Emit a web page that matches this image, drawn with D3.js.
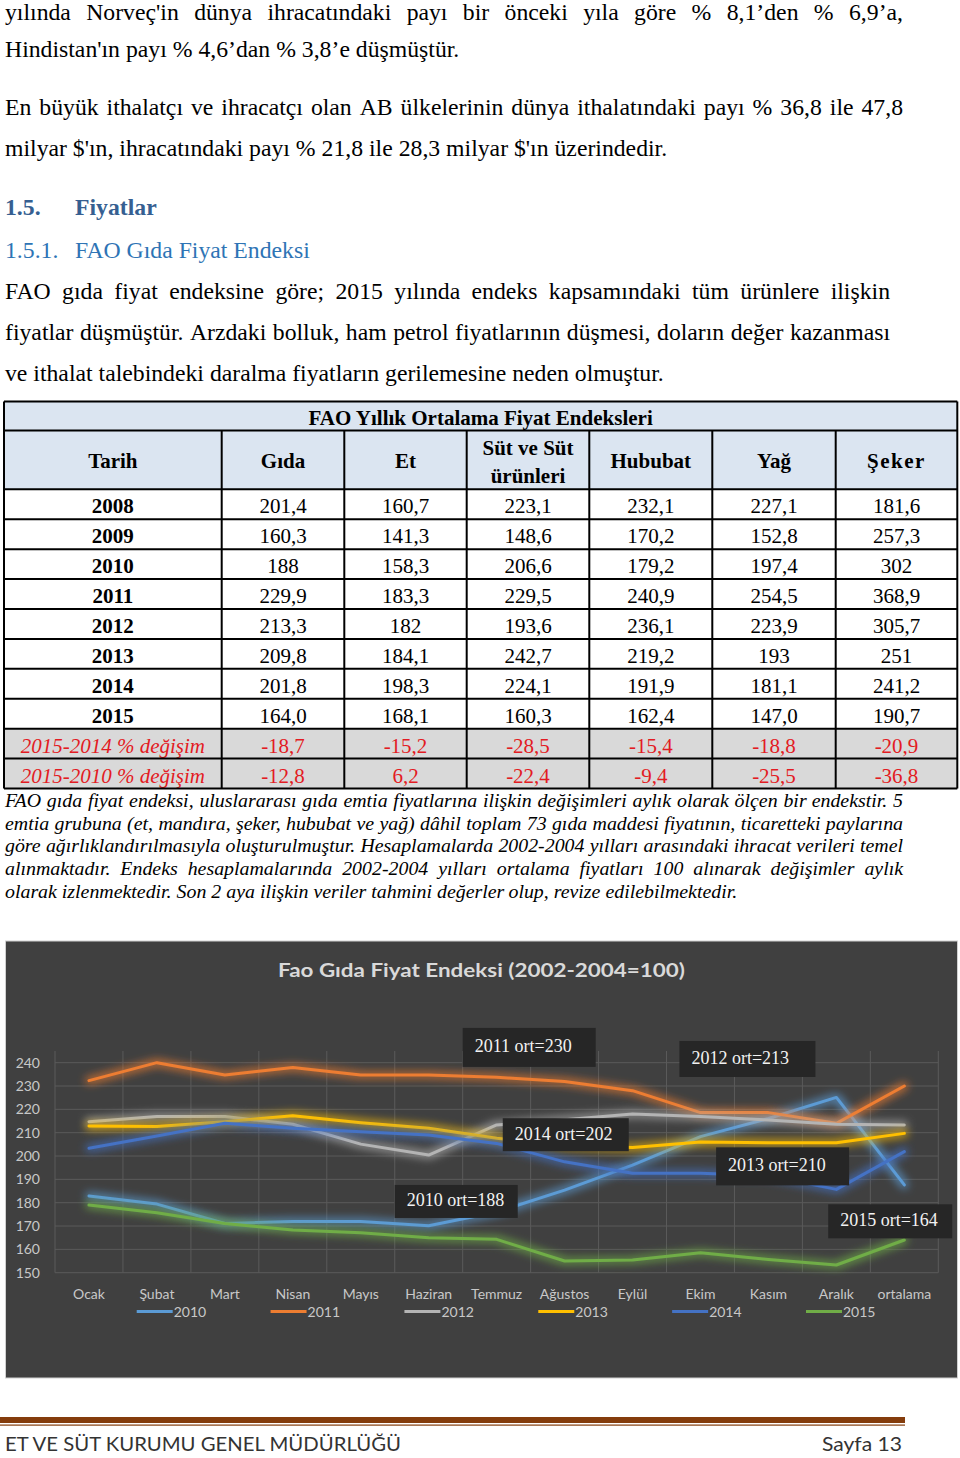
<!DOCTYPE html>
<html><head><meta charset="utf-8">
<script src="https://cdn.jsdelivr.net/npm/d3@7"></script>
<style>
html,body{margin:0;padding:0;background:#fff;}
svg{display:block;}
</style></head><body>
<svg id="page" width="960" height="1458"></svg>
<script>
// ---------------- DATA ----------------
const months = ["Ocak","Şubat","Mart","Nisan","Mayıs","Haziran","Temmuz","Ağustos","Eylül","Ekim","Kasım","Aralık","ortalama"];
const seriesNames = ["2010","2011","2012","2013","2014","2015"];
const s2010 = [182.9,179.4,171.1,171.9,171.9,170.1,176.0,185.4,196.1,208.3,216.1,225.1,187.6];
const s2011 = [232.3,240.0,234.7,237.9,234.7,234.7,233.7,231.9,228.0,218.6,218.6,214.0,230.0];
const s2012 = [214.7,216.9,216.9,213.6,205.1,200.4,213.3,215.5,218.0,216.9,215.4,213.6,213.3];
const s2013 = [212.9,212.6,214.7,217.3,214.3,211.9,207.6,204.5,203.7,206.0,205.7,205.7,209.7];
const s2014 = [203.3,208.6,214.0,211.9,210.4,209.0,205.4,197.5,192.6,192.6,191.5,185.7,201.9];
const s2015 = [179.0,175.7,171.1,168.3,167.1,165.0,164.3,155.0,155.4,158.5,155.7,153.3,164.0];
const seriesColors = ["#5b9bd5","#ed7d31","#b4b4b4","#ffc000","#4472c4","#70ad47"];
const yTicks = [150,160,170,180,190,200,210,220,230,240];
const chartTitle = "Fao Gıda Fiyat Endeksi (2002-2004=100)";
const avgYears = ["2011","2012","2014","2013","2010","2015"];
const avgValues = [230,213,202,210,188,164];

const tableTitle = "FAO Yıllık Ortalama Fiyat Endeksleri";
const tableHeaders = ["Tarih","Gıda","Et","Süt ve Süt|ürünleri","Hububat","Yağ","Şeker"];
const tableRows = ["2008","2009","2010","2011","2012","2013","2014","2015","2015-2014 % değişim","2015-2010 % değişim"];
const colGida    = ["201,4","160,3","188","229,9","213,3","209,8","201,8","164,0","-18,7","-12,8"];
const colEt      = ["160,7","141,3","158,3","183,3","182","184,1","198,3","168,1","-15,2","6,2"];
const colSut     = ["223,1","148,6","206,6","229,5","193,6","242,7","224,1","160,3","-28,5","-22,4"];
const colHububat = ["232,1","170,2","179,2","240,9","236,1","219,2","191,9","162,4","-15,4","-9,4"];
const colYag     = ["227,1","152,8","197,4","254,5","223,9","193","181,1","147,0","-18,8","-25,5"];
const colSeker   = ["181,6","257,3","302","368,9","305,7","251","241,2","190,7","-20,9","-36,8"];

const bodyText = [
 "yılında Norveç'in dünya ihracatındaki payı bir önceki yıla göre % 8,1’den % 6,9’a,",
 "Hindistan'ın payı % 4,6’dan % 3,8’e düşmüştür.",
 "En büyük ithalatçı ve ihracatçı olan AB ülkelerinin dünya ithalatındaki payı % 36,8 ile 47,8",
 "milyar $'ın, ihracatındaki payı % 21,8 ile 28,3 milyar $'ın üzerindedir.",
 "FAO gıda fiyat endeksine göre; 2015 yılında endeks kapsamındaki tüm ürünlere ilişkin",
 "fiyatlar düşmüştür. Arzdaki bolluk, ham petrol fiyatlarının düşmesi, doların değer kazanması",
 "ve ithalat talebindeki daralma fiyatların gerilemesine neden olmuştur."
];
const headingNums = ["1.5.","1.5.1."];
const headingTexts = ["Fiyatlar","FAO Gıda Fiyat Endeksi"];
const noteText = [
 "FAO gıda fiyat endeksi, uluslararası gıda emtia fiyatlarına ilişkin değişimleri aylık olarak ölçen bir endekstir. 5",
 "emtia grubuna (et, mandıra, şeker, hububat ve yağ) dâhil toplam 73 gıda maddesi fiyatının, ticaretteki paylarına",
 "göre ağırlıklandırılmasıyla oluşturulmuştur. Hesaplamalarda 2002-2004 yılları arasındaki ihracat verileri temel",
 "alınmaktadır. Endeks hesaplamalarında 2002-2004 yılları ortalama fiyatları 100 alınarak değişimler aylık",
 "olarak izlenmektedir. Son 2 aya ilişkin veriler tahmini değerler olup, revize edilebilmektedir."
];
const footerLeft = "ET VE SÜT KURUMU GENEL MÜDÜRLÜĞÜ";
const footerRight = "Sayfa 13";

// ---------------- LAYOUT ----------------
const SERIF = "'Liberation Serif','Times New Roman',serif";
const SANS = "Lato,'Open Sans',sans-serif";
const bodyLayout = [
 {y:19.5, r:903},{y:57, r:null},{y:115, r:903},{y:156, r:null},
 {y:299, r:890},{y:340, r:890},{y:381, r:null}
];
const headingLayout = [{y:215, bold:true, color:"#365f91"},{y:258, bold:false, color:"#2e74b5"}];
const noteLayout = [{y:807,r:903},{y:830,r:903},{y:852,r:903},{y:875,r:903},{y:898,r:null}];

const svg = d3.select("#page");

function placeLine(g, text, x0, right, y, size, attrs) {
  const t = g.append("text").attr("y", y).attr("font-size", size);
  for (const k in attrs) t.attr(k, attrs[k]);
  const words = text.split(" ");
  const spans = words.map(w => t.append("tspan").text(w));
  const widths = spans.map(s => s.node().getComputedTextLength());
  const spaceW = (() => { const s = t.append("tspan").text("\u00a0"); const w = s.node().getComputedTextLength(); s.remove(); return w; })();
  let gap = spaceW;
  if (right != null && words.length > 1) gap = (right - x0 - d3.sum(widths)) / (words.length - 1);
  let x = x0;
  spans.forEach((s, i) => { s.attr("x", x); x += widths[i] + gap; });
  return t;
}
function measure(text, size, attrs) {
  const t = svg.append("text").attr("font-size", size).text(text);
  for (const k in attrs) t.attr(k, attrs[k]);
  const w = t.node().getComputedTextLength(); t.remove(); return w;
}

// ---- body text
const bodyAttrs = {"font-family": SERIF, fill: "#000"};
const bodySize = 21 * 659 / measure(bodyText[6], 21, bodyAttrs);
const gBody = svg.append("g");
bodyText.forEach((t, i) => placeLine(gBody, t, 5, bodyLayout[i].r, bodyLayout[i].y, bodySize, bodyAttrs));
headingNums.forEach((n, i) => {
  const L = headingLayout[i];
  gBody.append("text").attr("x", 5).attr("y", L.y).attr("font-family", SERIF).attr("font-size", bodySize)
    .attr("font-weight", L.bold ? "bold" : "normal").attr("fill", L.color).text(n);
  gBody.append("text").attr("x", 75).attr("y", L.y).attr("font-family", SERIF).attr("font-size", bodySize)
    .attr("font-weight", L.bold ? "bold" : "normal").attr("fill", L.color).text(headingTexts[i]);
});

// ---- table
const colEdges = [4, 221.7, 344.3, 466.7, 589.3, 712.3, 835.7, 957.3];
const tTop = 401.5, tHead = 430.5, tBody = 489.3, tBot = 788.5;
const rowY = d3.scaleBand().domain(tableRows).range([tBody, tBot]);
const columns = [colGida, colEt, colSut, colHububat, colYag, colSeker];
const gT = svg.append("g");
gT.append("rect").attr("x", colEdges[0]).attr("y", tTop).attr("width", colEdges[7]-colEdges[0]).attr("height", tBody-tTop).attr("fill", "#dbe5f1");
tableRows.forEach((r, i) => {
  gT.append("rect").attr("x", colEdges[0]).attr("y", rowY(r)).attr("width", colEdges[7]-colEdges[0]).attr("height", rowY.bandwidth())
    .attr("fill", i >= 8 ? "#d9d9d9" : "#fff");
});
const tSize = 21;
gT.append("text").attr("x", (colEdges[0]+colEdges[7])/2).attr("y", 425).attr("text-anchor","middle")
  .attr("font-family", SERIF).attr("font-weight","bold").attr("font-size", tSize).text(tableTitle);
tableHeaders.forEach((h, j) => {
  const cx = (colEdges[j] + colEdges[j+1]) / 2;
  const parts = h.split("|");
  const t = gT.append("text").attr("text-anchor","middle").attr("font-family", SERIF).attr("font-weight","bold").attr("font-size", tSize);
  if (h === "Şeker") t.attr("letter-spacing", 1.5);
  if (parts.length === 1) t.attr("x", cx).attr("y", 468).text(h);
  else { t.append("tspan").attr("x", cx).attr("y", 455).text(parts[0]); t.append("tspan").attr("x", cx).attr("y", 483).text(parts[1]); }
});
tableRows.forEach((r, i) => {
  const by = rowY(r) + 24;
  const isChg = i >= 8;
  gT.append("text").attr("x", (colEdges[0]+colEdges[1])/2).attr("y", by).attr("text-anchor","middle")
    .attr("font-family", SERIF).attr("font-size", tSize)
    .attr("font-weight", isChg ? "normal" : "bold").attr("font-style", isChg ? "italic" : "normal")
    .attr("fill", isChg ? "#e31b23" : "#000").text(r);
  columns.forEach((col, j) => {
    gT.append("text").attr("x", (colEdges[j+1]+colEdges[j+2])/2).attr("y", by).attr("text-anchor","middle")
      .attr("font-family", SERIF).attr("font-size", tSize).attr("fill", isChg ? "#e31b23" : "#000").text(col[i]);
  });
});
// table lines
const hLines = [tTop, tHead, tBody].concat(tableRows.map(r => rowY(r) + rowY.bandwidth()));
hLines.forEach(yy => gT.append("line").attr("x1", colEdges[0]).attr("x2", colEdges[7]).attr("y1", yy).attr("y2", yy).attr("stroke","#000").attr("stroke-width",2));
colEdges.forEach((xx, j) => gT.append("line").attr("x1", xx).attr("x2", xx)
  .attr("y1", (j === 0 || j === 7) ? tTop : tHead).attr("y2", tBot).attr("stroke","#000").attr("stroke-width",2));

// ---- footnote
const noteAttrs = {"font-family": SERIF, "font-style": "italic", fill: "#000"};
const noteSize = 17 * 733 / measure(noteText[4], 17, noteAttrs);
const gN = svg.append("g");
noteText.forEach((t, i) => placeLine(gN, t, 5, noteLayout[i].r, noteLayout[i].y, noteSize, noteAttrs));

// ---------------- CHART ----------------
const gC = svg.append("g");
gC.append("rect").attr("x", 5.5).attr("y", 941).attr("width", 952).attr("height", 437)
  .attr("fill", "#404040").attr("stroke", "#d0d0d0").attr("stroke-width", 1);

const x = d3.scaleBand().domain(months).range([55, 938.3]);
const y = d3.scaleLinear().domain([150, 245]).range([1272.7, 1051]);

const defs = svg.append("defs");
const flt = defs.append("filter").attr("id","glow").attr("filterUnits","userSpaceOnUse")
  .attr("x",0).attr("y",930).attr("width",960).attr("height",460);
flt.append("feMorphology").attr("in","SourceGraphic").attr("operator","dilate").attr("radius",2).attr("result","d");
flt.append("feGaussianBlur").attr("in","d").attr("stdDeviation",4.5).attr("result","b");
flt.append("feComponentTransfer").attr("in","b").attr("result","b2").append("feFuncA").attr("type","linear").attr("slope",0.75);
const mg = flt.append("feMerge"); mg.append("feMergeNode").attr("in","b2"); mg.append("feMergeNode").attr("in","SourceGraphic");

// gridlines
const grid = gC.append("g").attr("stroke", "#5a5a5a").attr("stroke-width", 1);
yTicks.forEach(v => grid.append("line").attr("x1", x.range()[0]).attr("x2", x.range()[1]).attr("y1", y(v)).attr("y2", y(v)));
months.map(m => x(m)).concat([x.range()[1]]).forEach(xx =>
  grid.append("line").attr("x1", xx).attr("x2", xx).attr("y1", y.range()[1]).attr("y2", y.range()[0]));

// axes
const yAx = gC.append("g").attr("transform", `translate(${x.range()[0]},0)`)
  .call(d3.axisLeft(y).tickValues(yTicks).tickSize(0).tickPadding(15));
const xAx = gC.append("g").attr("transform", `translate(0,${y.range()[0]})`)
  .call(d3.axisBottom(x).tickSize(0).tickPadding(16));
[yAx, xAx].forEach(a => {
  a.select(".domain").remove();
  a.selectAll("text").attr("font-family", SANS).attr("font-size", 14).attr("fill", "#c8c8c8");
});

// lines
const allSeries = [s2010, s2011, s2012, s2013, s2014, s2015];
const line = d3.line().x((d, i) => x(months[i]) + x.bandwidth()/2).y(d => y(d));
const gL = gC.append("g");
allSeries.forEach((s, k) => {
  gL.append("path").datum(s).attr("d", line).attr("fill","none").attr("stroke", seriesColors[k])
    .attr("stroke-width", 3).attr("stroke-linejoin","round").attr("stroke-linecap","round")
    .attr("filter", "url(#glow)");
});

// title
gC.append("text").attr("x", 278).attr("y", 977).attr("font-family", SANS).attr("font-weight","bold")
  .attr("font-size", 19.5).attr("fill", "#d9d9d9").attr("textLength", 407).attr("lengthAdjust","spacingAndGlyphs").text(chartTitle);

// legend
const legX = d3.scalePoint().domain(seriesNames).range([136.7, 806]);
seriesNames.forEach((n, k) => {
  const lx = legX(n);
  gC.append("line").attr("x1", lx).attr("x2", lx + 36).attr("y1", 1311.5).attr("y2", 1311.5)
    .attr("stroke", seriesColors[k]).attr("stroke-width", 3);
  gC.append("text").attr("x", lx + 37).attr("y", 1317).attr("font-family", SANS).attr("font-size", 14)
    .attr("fill", "#c8c8c8").text(n);
});

// average annotation boxes (anchored through the scales)
const boxLayout = [
  {cat:"Temmuz", f:0.00, v:254.9, w:133, h:39},
  {cat:"Ekim",   f:0.19, v:249.3, w:136, h:36},
  {cat:"Temmuz", f:0.59, v:216.2, w:126, h:33},
  {cat:"Ekim",   f:0.73, v:203.7, w:133, h:38},
  {cat:"Haziran",f:0.00, v:187.6, w:123, h:33},
  {cat:"Aralık", f:0.38, v:179.3, w:124, h:34}
];
avgYears.forEach((yr, i) => {
  const L = boxLayout[i];
  const bx = x(L.cat) + L.f * x.bandwidth(), by = y(L.v);
  gC.append("rect").attr("x", bx).attr("y", by).attr("width", L.w).attr("height", L.h).attr("fill", "#262626");
  gC.append("text").attr("x", bx + 12).attr("y", by + L.h/2 + 5).attr("font-family", SERIF).attr("font-size", 18)
    .attr("fill", "#f2f2f2").text(`${yr} ort=${avgValues[i]}`);
});

// ---------------- FOOTER ----------------
svg.append("rect").attr("x", 0).attr("y", 1417).attr("width", 905).attr("height", 6).attr("fill", "#843c0c");
svg.append("rect").attr("x", 0).attr("y", 1424.5).attr("width", 905).attr("height", 1.2).attr("fill", "#843c0c");
svg.append("text").attr("x", 5).attr("y", 1451).attr("font-family", SANS).attr("font-size", 20).attr("fill", "#333")
  .attr("textLength", 396).attr("lengthAdjust","spacingAndGlyphs").text(footerLeft);
svg.append("text").attr("x", 822).attr("y", 1451).attr("font-family", SANS).attr("font-size", 20).attr("fill", "#333")
  .attr("textLength", 80).attr("lengthAdjust","spacingAndGlyphs").text(footerRight);
</script>
</body></html>
